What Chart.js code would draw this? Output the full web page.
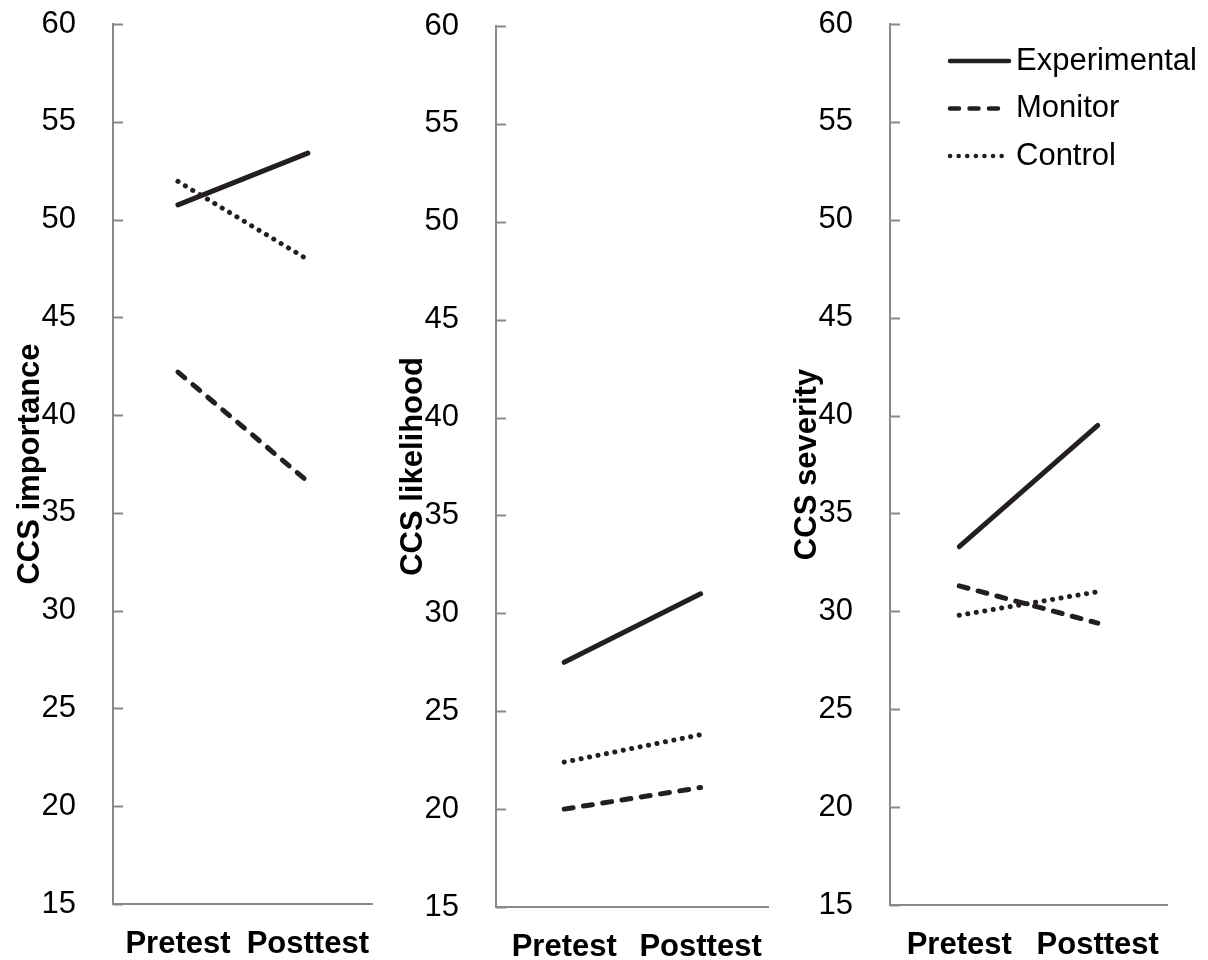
<!DOCTYPE html>
<html lang="en">
<head>
<meta charset="UTF-8" />
<title>CCS importance, likelihood and severity</title>
<script src="https://cdn.jsdelivr.net/npm/chart.js"></script>
<style>
  body { margin: 0; background: #fff; }
  #wrap { position: relative; width: 1208px; height: 960px; }
  canvas { position: absolute; top: 0; }
</style>
</head>
<body>
<div id="wrap">
  <canvas id="importance" width="383" height="960" style="left:0"></canvas>
  <canvas id="likelihood" width="394" height="960" style="left:383px"></canvas>
  <canvas id="severity" width="431" height="960" style="left:777px"></canvas>
</div>
<script>
const tests = ['Pretest', 'Posttest'];
const groups = ['Experimental', 'Monitor', 'Control'];
const yMin = 15, yMax = 60, yStep = 5;

const importanceExperimental = [50.75, 53.4];
const importanceMonitor = [42.2, 36.6];
const importanceControl = [51.95, 47.95];

const likelihoodExperimental = [27.5, 31.0];
const likelihoodMonitor = [20.0, 21.1];
const likelihoodControl = [22.4, 23.8];

const severityExperimental = [33.3, 39.5];
const severityMonitor = [31.3, 29.4];
const severityControl = [29.8, 31.0];

const FONT = "'Liberation Sans', Arial, sans-serif";
const INK = '#231f20';
const AXIS = '#898989';
const dashes = [[], [9, 10.5], [0.1, 8.5]];

// Excel-style tick marks pointing into the plot
const innerTicks = {
  id: 'innerTicks',
  beforeDatasetsDraw(chart) {
    const y = chart.scales.y, ctx = chart.ctx;
    ctx.save();
    ctx.strokeStyle = AXIS;
    ctx.lineWidth = 2;
    y.ticks.forEach(t => {
      const py = Math.round(y.getPixelForValue(t.value)) + 0.5;
      ctx.beginPath();
      ctx.moveTo(y.right, py);
      ctx.lineTo(y.right + 10, py);
      ctx.stroke();
    });
    ctx.restore();
  }
};

// legend in the top right corner of the last panel
const sideLegend = {
  id: 'sideLegend',
  afterDraw(chart) {
    const ctx = chart.ctx;
    ctx.save();
    chart.data.datasets.forEach((ds, i) => {
      const y = 61 + i * 47.5;
      ctx.strokeStyle = ds.borderColor;
      ctx.lineWidth = 4.5;
      ctx.lineCap = 'round';
      ctx.setLineDash(ds.borderDash);
      ctx.beginPath();
      ctx.moveTo(173, y);
      ctx.lineTo(i === 0 ? 232 : 226, y);
      ctx.stroke();
      ctx.setLineDash([]);
      ctx.fillStyle = '#000';
      ctx.font = '31px ' + FONT;
      ctx.textBaseline = 'middle';
      ctx.fillText(ds.label, 239, y);
    });
    ctx.restore();
  }
};

function makePanel(id, title, series, top, bottom, right, extra) {
  return new Chart(document.getElementById(id), {
    type: 'line',
    data: {
      labels: tests,
      datasets: series.map((vals, i) => ({
        label: groups[i],
        data: vals,
        borderColor: INK,
        borderWidth: 5,
        borderDash: dashes[i],
        borderCapStyle: 'round',
        pointRadius: 0,
        tension: 0,
        fill: false
      }))
    },
    options: {
      responsive: false,
      animation: false,
      layout: { padding: { top: top, left: 0, right: right, bottom: 0 } },
      plugins: { legend: { display: false }, tooltip: { enabled: false } },
      scales: {
        x: {
          offset: true,
          grid: { display: false },
          border: { display: true, color: AXIS, width: 2 },
          ticks: { color: '#000', padding: 14, font: { family: FONT, size: 31, weight: 'bold' }, maxRotation: 0 },
          afterFit: s => { s.height = bottom; }
        },
        y: {
          min: yMin,
          max: yMax,
          grid: { display: false },
          border: { display: true, color: AXIS, width: 2 },
          ticks: { stepSize: yStep, color: '#000', padding: 29, font: { family: FONT, size: 31 } },
          title: {
            display: true,
            text: title,
            color: '#000',
            font: { family: FONT, size: 31, weight: 'bold' },
            padding: { top: 12, bottom: 0 }
          },
          afterFit: s => {
            s.width = 113;
            s.paddingTop = 0;
            s.paddingBottom = 0;
          }
        }
      }
    },
    plugins: [innerTicks].concat(extra || [])
  });
}

makePanel('importance', 'CCS importance',
  [importanceExperimental, importanceMonitor, importanceControl], 24, 56, 0);
makePanel('likelihood', 'CCS likelihood',
  [likelihoodExperimental, likelihoodMonitor, likelihoodControl], 26, 53, 5);
makePanel('severity', 'CCS severity',
  [severityExperimental, severityMonitor, severityControl], 24, 55, 41, [sideLegend]);
</script>
</body>
</html>
